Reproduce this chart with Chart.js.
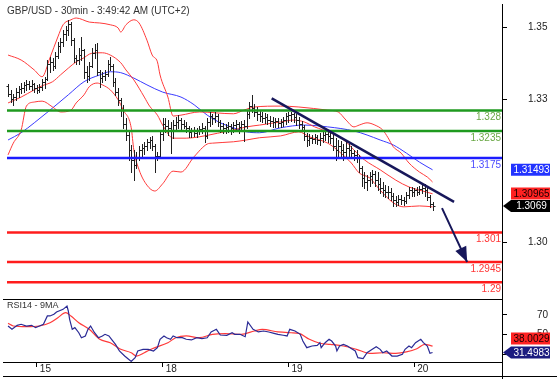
<!DOCTYPE html>
<html>
<head>
<meta charset="utf-8">
<script src="https://cdn.jsdelivr.net/npm/chart.js@4.4.0/dist/chart.umd.min.js"></script>
<style>
  html, body { margin: 0; padding: 0; background: #fff; }
  #wrap { position: relative; width: 557px; height: 379px; overflow: hidden; }
  canvas { position: absolute; left: 0; }
  #price { top: 0; width: 557px; height: 299px; }
  #rsi { top: 299px; width: 557px; height: 80px; }
</style>
</head>
<body>
<div id="wrap">
  <canvas id="price" width="557" height="299"></canvas>
  <canvas id="rsi" width="557" height="80"></canvas>
</div>
<script>
// 30 min bars, index 0 = first bar on the left
const opens = [
  1.3335, 1.3317, 1.3306, 1.3310, 1.3321, 1.3328, 1.3330, 1.3337, 1.3339, 1.3335,
  1.3339, 1.3330, 1.3326, 1.3333, 1.3344, 1.3350, 1.3383, 1.3388, 1.3379, 1.3401,
  1.3423, 1.3432, 1.3450, 1.3459, 1.3472, 1.3436, 1.3397, 1.3392, 1.3403, 1.3414,
  1.3366, 1.3357, 1.3379, 1.3408, 1.3414, 1.3366, 1.3352, 1.3357, 1.3361, 1.3383,
  1.3379, 1.3344, 1.3321, 1.3304, 1.3281, 1.3250, 1.3226, 1.3193, 1.3171, 1.3160,
  1.3175, 1.3193, 1.3197, 1.3202, 1.3211, 1.3215, 1.3202, 1.3180, 1.3180, 1.3228,
  1.3250, 1.3246, 1.3242, 1.3237, 1.3248, 1.3255, 1.3259, 1.3250, 1.3246, 1.3242,
  1.3233, 1.3235, 1.3231, 1.3237, 1.3239, 1.3242, 1.3224, 1.3255, 1.3268, 1.3264,
  1.3268, 1.3255, 1.3246, 1.3242, 1.3244, 1.3246, 1.3242, 1.3248, 1.3250, 1.3244,
  1.3250, 1.3246, 1.3273, 1.3290, 1.3286, 1.3277, 1.3273, 1.3268, 1.3264, 1.3266,
  1.3259, 1.3257, 1.3255, 1.3257, 1.3253, 1.3255, 1.3259, 1.3268, 1.3270, 1.3273,
  1.3266, 1.3259, 1.3250, 1.3244, 1.3224, 1.3215, 1.3220, 1.3217, 1.3222, 1.3215,
  1.3220, 1.3226, 1.3228, 1.3224, 1.3220, 1.3202, 1.3193, 1.3202, 1.3193, 1.3189,
  1.3197, 1.3193, 1.3186, 1.3182, 1.3175, 1.3153, 1.3131, 1.3122, 1.3126, 1.3135,
  1.3140, 1.3126, 1.3118, 1.3109, 1.3104, 1.3100, 1.3100, 1.3091, 1.3082, 1.3078,
  1.3085, 1.3082, 1.3080, 1.3093, 1.3104, 1.3100, 1.3104, 1.3100, 1.3107, 1.3109,
  1.3104, 1.3089, 1.3073,
]
const highs = [
  1.3339, 1.3326, 1.3317, 1.3330, 1.3335, 1.3341, 1.3344, 1.3348, 1.3346, 1.3348,
  1.3341, 1.3337, 1.3339, 1.3350, 1.3355, 1.3392, 1.3399, 1.3397, 1.3410, 1.3432,
  1.3441, 1.3459, 1.3467, 1.3481, 1.3476, 1.3441, 1.3403, 1.3419, 1.3443, 1.3416,
  1.3379, 1.3388, 1.3419, 1.3427, 1.3429, 1.3370, 1.3366, 1.3370, 1.3392, 1.3399,
  1.3383, 1.3352, 1.3330, 1.3308, 1.3293, 1.3264, 1.3233, 1.3204, 1.3193, 1.3189,
  1.3202, 1.3206, 1.3211, 1.3217, 1.3222, 1.3224, 1.3206, 1.3189, 1.3237, 1.3264,
  1.3264, 1.3259, 1.3255, 1.3259, 1.3266, 1.3270, 1.3264, 1.3259, 1.3255, 1.3246,
  1.3242, 1.3244, 1.3242, 1.3246, 1.3253, 1.3246, 1.3264, 1.3277, 1.3273, 1.3277,
  1.3273, 1.3259, 1.3253, 1.3250, 1.3255, 1.3250, 1.3255, 1.3259, 1.3255, 1.3257,
  1.3259, 1.3281, 1.3299, 1.3315, 1.3295, 1.3288, 1.3281, 1.3277, 1.3275, 1.3273,
  1.3268, 1.3266, 1.3264, 1.3264, 1.3261, 1.3266, 1.3275, 1.3277, 1.3277, 1.3275,
  1.3273, 1.3266, 1.3257, 1.3248, 1.3231, 1.3228, 1.3226, 1.3228, 1.3226, 1.3231,
  1.3233, 1.3235, 1.3237, 1.3235, 1.3231, 1.3220, 1.3215, 1.3213, 1.3206, 1.3211,
  1.3206, 1.3202, 1.3193, 1.3193, 1.3182, 1.3157, 1.3144, 1.3138, 1.3144, 1.3149,
  1.3146, 1.3144, 1.3131, 1.3122, 1.3115, 1.3113, 1.3109, 1.3098, 1.3091, 1.3093,
  1.3093, 1.3089, 1.3100, 1.3111, 1.3111, 1.3109, 1.3111, 1.3113, 1.3115, 1.3118,
  1.3113, 1.3093, 1.3078,
]
const lows = [
  1.3313, 1.3299, 1.3293, 1.3304, 1.3310, 1.3319, 1.3321, 1.3326, 1.3328, 1.3326,
  1.3321, 1.3319, 1.3321, 1.3326, 1.3330, 1.3348, 1.3366, 1.3370, 1.3374, 1.3397,
  1.3410, 1.3423, 1.3436, 1.3447, 1.3425, 1.3388, 1.3383, 1.3383, 1.3392, 1.3352,
  1.3344, 1.3348, 1.3377, 1.3397, 1.3359, 1.3333, 1.3344, 1.3348, 1.3357, 1.3370,
  1.3335, 1.3315, 1.3293, 1.3268, 1.3242, 1.3215, 1.3171, 1.3144, 1.3126, 1.3153,
  1.3171, 1.3180, 1.3184, 1.3193, 1.3197, 1.3193, 1.3144, 1.3171, 1.3175, 1.3215,
  1.3233, 1.3226, 1.3186, 1.3220, 1.3237, 1.3242, 1.3237, 1.3242, 1.3233, 1.3222,
  1.3222, 1.3224, 1.3222, 1.3228, 1.3231, 1.3211, 1.3220, 1.3246, 1.3250, 1.3255,
  1.3246, 1.3233, 1.3231, 1.3231, 1.3233, 1.3228, 1.3233, 1.3237, 1.3231, 1.3237,
  1.3213, 1.3242, 1.3264, 1.3277, 1.3268, 1.3259, 1.3257, 1.3255, 1.3253, 1.3250,
  1.3246, 1.3244, 1.3244, 1.3244, 1.3244, 1.3246, 1.3250, 1.3255, 1.3257, 1.3255,
  1.3248, 1.3242, 1.3235, 1.3215, 1.3202, 1.3204, 1.3208, 1.3208, 1.3206, 1.3204,
  1.3211, 1.3215, 1.3211, 1.3208, 1.3193, 1.3171, 1.3175, 1.3180, 1.3171, 1.3180,
  1.3180, 1.3178, 1.3171, 1.3166, 1.3144, 1.3113, 1.3109, 1.3104, 1.3113, 1.3120,
  1.3113, 1.3104, 1.3098, 1.3091, 1.3089, 1.3087, 1.3082, 1.3069, 1.3069, 1.3071,
  1.3073, 1.3071, 1.3076, 1.3087, 1.3091, 1.3091, 1.3093, 1.3096, 1.3098, 1.3091,
  1.3082, 1.3067, 1.3060,
]
const closes = [
  1.3317, 1.3306, 1.3310, 1.3321, 1.3328, 1.3330, 1.3337, 1.3339, 1.3335, 1.3339,
  1.3330, 1.3326, 1.3333, 1.3344, 1.3350, 1.3383, 1.3388, 1.3379, 1.3401, 1.3423,
  1.3432, 1.3450, 1.3459, 1.3472, 1.3436, 1.3397, 1.3392, 1.3403, 1.3414, 1.3366,
  1.3357, 1.3379, 1.3408, 1.3414, 1.3366, 1.3352, 1.3357, 1.3361, 1.3383, 1.3379,
  1.3344, 1.3321, 1.3304, 1.3281, 1.3250, 1.3226, 1.3193, 1.3171, 1.3160, 1.3175,
  1.3193, 1.3197, 1.3202, 1.3211, 1.3215, 1.3202, 1.3180, 1.3180, 1.3228, 1.3250,
  1.3246, 1.3242, 1.3237, 1.3248, 1.3255, 1.3259, 1.3250, 1.3246, 1.3242, 1.3233,
  1.3235, 1.3231, 1.3237, 1.3239, 1.3242, 1.3224, 1.3255, 1.3268, 1.3264, 1.3268,
  1.3255, 1.3246, 1.3242, 1.3244, 1.3246, 1.3242, 1.3248, 1.3250, 1.3244, 1.3250,
  1.3246, 1.3273, 1.3290, 1.3286, 1.3277, 1.3273, 1.3268, 1.3264, 1.3266, 1.3259,
  1.3257, 1.3255, 1.3257, 1.3253, 1.3255, 1.3259, 1.3268, 1.3270, 1.3273, 1.3266,
  1.3259, 1.3250, 1.3244, 1.3224, 1.3215, 1.3220, 1.3217, 1.3222, 1.3215, 1.3220,
  1.3226, 1.3228, 1.3224, 1.3220, 1.3202, 1.3193, 1.3202, 1.3193, 1.3189, 1.3197,
  1.3193, 1.3186, 1.3182, 1.3175, 1.3153, 1.3131, 1.3122, 1.3126, 1.3135, 1.3140,
  1.3126, 1.3118, 1.3109, 1.3104, 1.3100, 1.3100, 1.3091, 1.3082, 1.3078, 1.3085,
  1.3082, 1.3080, 1.3093, 1.3104, 1.3100, 1.3104, 1.3100, 1.3107, 1.3109, 1.3104,
  1.3089, 1.3073, 1.3069,
]

// bollinger bands and moving average (bar index, price)
const bbUpperAt = [0, 5, 10, 13, 16, 19, 21, 24, 26, 31, 35, 39, 42, 43, 45, 48, 50, 53, 55, 57, 58, 61, 63, 66, 73, 86, 90, 94, 104, 111, 122, 126, 129, 132, 134, 137, 140, 143, 145, 147, 150, 153, 157, 160, 162]
const bbUpper = [1.3403, 1.3392, 1.3370, 1.3355, 1.3397, 1.3443, 1.3470, 1.3481, 1.3485, 1.3476, 1.3474, 1.3470, 1.3463, 1.3454, 1.3470, 1.3481, 1.3474, 1.3436, 1.3403, 1.3388, 1.3359, 1.3310, 1.3268, 1.3270, 1.3277, 1.3273, 1.3281, 1.3288, 1.3290, 1.3288, 1.3281, 1.3277, 1.3259, 1.3244, 1.3248, 1.3253, 1.3248, 1.3237, 1.3220, 1.3200, 1.3186, 1.3164, 1.3144, 1.3133, 1.3122]
const bbMidAt = [0, 5, 10, 13, 17, 20, 23, 26, 29, 31, 34, 36, 39, 43, 45, 48, 52, 54, 57, 59, 63, 68, 73, 80, 86, 91, 96, 104, 109, 113, 117, 123, 129, 132, 136, 142, 148, 153, 157, 162]
const bbMid = [1.3297, 1.3310, 1.3326, 1.3335, 1.3344, 1.3359, 1.3374, 1.3388, 1.3397, 1.3405, 1.3408, 1.3408, 1.3403, 1.3386, 1.3370, 1.3348, 1.3310, 1.3290, 1.3270, 1.3248, 1.3219, 1.3219, 1.3222, 1.3230, 1.3237, 1.3244, 1.3248, 1.3255, 1.3259, 1.3255, 1.3244, 1.3231, 1.3211, 1.3193, 1.3171, 1.3149, 1.3126, 1.3111, 1.3104, 1.3096]
const bbLowerAt = [0, 2, 5, 7, 10, 13, 17, 20, 24, 26, 29, 31, 34, 36, 39, 42, 44, 47, 48, 50, 53, 56, 59, 63, 66, 71, 76, 78, 86, 91, 96, 104, 111, 115, 122, 127, 131, 134, 138, 142, 147, 151, 157, 162]
const bbLower = [1.3182, 1.3208, 1.3237, 1.3290, 1.3299, 1.3301, 1.3288, 1.3277, 1.3281, 1.3297, 1.3315, 1.3333, 1.3341, 1.3337, 1.3326, 1.3304, 1.3281, 1.3242, 1.3193, 1.3149, 1.3115, 1.3102, 1.3118, 1.3146, 1.3144, 1.3178, 1.3206, 1.3208, 1.3211, 1.3215, 1.3220, 1.3224, 1.3233, 1.3222, 1.3208, 1.3186, 1.3164, 1.3142, 1.3131, 1.3104, 1.3076, 1.3067, 1.3069, 1.3067]
const maAt = [0, 5, 10, 16, 23, 29, 35, 39, 43, 48, 53, 59, 66, 71, 76, 81, 86, 91, 96, 104, 113, 122, 132, 137, 142, 147, 152, 157, 162]
const ma = [1.3215, 1.3231, 1.3253, 1.3281, 1.3315, 1.3344, 1.3359, 1.3366, 1.3364, 1.3352, 1.3337, 1.3321, 1.3310, 1.3293, 1.3270, 1.3253, 1.3242, 1.3233, 1.3231, 1.3242, 1.3248, 1.3244, 1.3235, 1.3226, 1.3215, 1.3204, 1.3186, 1.3166, 1.3149]

// horizontal levels
const levelValues = [1.328, 1.3235, 1.3175, 1.301, 1.2945, 1.29]
const levelLabels = ['1.328', '1.3235', '1.3175', '1.301', '1.2945', '1.29']

// drawn trend line and the target arrow
const trendAt = [100.6, 170.2]
const trendPrice = [1.3307, 1.3078]
const arrowAt = [165.6, 175.2]
const arrowPrice = [1.3064, 1.2945]

// last values shown in the boxes
const lastMa = 1.31493
const lastMid = 1.30965
const lastClose = 1.3069

// rsi panel
const rsiAt = [0, 1.5, 3.5, 5, 7, 9, 10.5, 12, 13.5, 15, 16, 17.5, 18.5, 21, 22.5, 23, 23.5, 24.5, 25.5, 27, 28, 29.5, 30.5, 31.5, 33, 34.5, 36, 37, 38.5, 39.5, 41, 42.5, 44.5, 46, 47, 48.5, 49.5, 51.5, 53.5, 55.5, 57, 58, 59.5, 60.5, 62, 63, 64.5, 66.5, 68, 70, 72, 74, 76, 77.5, 79.5, 81, 83.5, 85.5, 86.5, 88.5, 90.5, 91.5, 93.5, 95.5, 97.5, 99.5, 101.5, 103, 105, 106.5, 107.5, 109.5, 111.5, 112.5, 114, 116, 118, 119, 119.5, 121, 122.5, 123.5, 125, 125.5, 126.5, 128, 129.5, 130.5, 132.5, 133.5, 135.5, 137, 139, 140.5, 142, 143, 144.5, 146.5, 148.5, 150.5, 151.5, 153, 154, 155.5, 157.5, 158.5, 160, 161, 162]
const rsi = [58.7, 55.3, 59.4, 60.5, 58.7, 59.4, 57.0, 58.7, 60.5, 69.0, 69.0, 70.7, 73.1, 75.8, 79.2, 74.1, 65.6, 55.3, 57.0, 51.8, 46.7, 48.5, 55.3, 58.7, 51.8, 46.7, 48.5, 50.2, 48.5, 45.1, 39.9, 33.1, 27.9, 24.6, 22.4, 26.2, 33.1, 34.8, 34.8, 33.1, 36.5, 45.1, 48.5, 46.7, 45.1, 48.5, 46.7, 46.7, 45.1, 44.4, 46.7, 45.7, 46.7, 52.6, 55.3, 49.5, 49.2, 51.8, 50.2, 50.2, 47.7, 62.8, 55.3, 52.6, 53.6, 52.6, 51.2, 50.2, 49.2, 48.5, 55.3, 53.6, 50.2, 43.3, 36.5, 38.2, 38.9, 41.6, 36.5, 41.6, 45.1, 43.3, 38.2, 33.1, 38.2, 39.9, 38.2, 36.5, 33.1, 26.2, 25.2, 31.3, 34.8, 37.5, 34.8, 31.3, 33.1, 27.9, 27.9, 29.7, 34.8, 38.2, 36.5, 41.6, 45.1, 41.6, 38.2, 30.7, 31.5]
const rsiMaAt = [0, 2, 7, 12, 16, 19, 22, 24, 27, 31, 35, 39, 43, 47, 49, 52, 55, 61, 64, 68, 73, 78, 83, 89, 94, 97, 103, 108, 111, 115, 119, 123, 128, 133, 138, 143, 148, 152, 156, 159, 162]
const rsiMa = [61.5, 58.7, 58.0, 58.7, 62.1, 67.2, 72.4, 69.0, 62.1, 55.3, 45.1, 41.6, 34.8, 31.3, 27.9, 31.3, 35.4, 41.6, 46.7, 48.5, 46.7, 50.2, 50.8, 50.2, 53.6, 55.3, 52.6, 51.8, 51.2, 45.1, 41.0, 39.9, 38.2, 34.8, 30.7, 31.3, 30.7, 32.1, 35.4, 39.9, 38.0]
const lastRsi = 31.4983
const lastRsiMa = 38.0029

// axes
const dayTicks = [11, 59, 107, 155]
const dayLabels = ['15', '18', '19', '20']
const priceTickValues = [1.3464, 1.3305, 1.2988]
const rsiTickValues = [70, 50, 30]

const title = 'GBP/USD - 30min - 3:49:42 AM (UTC+2)'
const rsiTitle = 'RSI14 - 9MA'

const xMin = -0.4
const xMax = 188.5
const FONT = "'Liberation Sans', Arial, sans-serif"

Chart.defaults.font.family = FONT
Chart.defaults.font.size = 10
Chart.defaults.color = '#222'

const levelColors = ['#1f9a1f', '#1f9a1f', '#1c1cff', '#ff1c1c', '#ff1c1c', '#ff1c1c']
const levelTextColors = ['#6aa845', '#6aa845', '#4b4bff', '#ff3535', '#ff3535', '#ff3535']

const pts = (xs, ys) => xs.map((x, i) => ({ x, y: ys[i] }))

// keep the axes from pushing the plot area around
const fixWidth = s => {
  s.width = 55
  s.paddingTop = 0
  s.paddingBottom = 0
}
const fixHeight = s => {
  s.height = 17
  s.paddingLeft = 0
  s.paddingRight = 0
}

function valueBox(ctx, yMid, text, bg, fg, arrow) {
  const h = 12
  const l = 511
  const r = 550
  ctx.fillStyle = bg
  ctx.beginPath()
  if (arrow) {
    ctx.moveTo(503, yMid)
    ctx.lineTo(l, yMid - h / 2)
  } else {
    ctx.moveTo(l, yMid - h / 2)
  }
  ctx.lineTo(r, yMid - h / 2)
  ctx.lineTo(r, yMid + h / 2)
  ctx.lineTo(l, yMid + h / 2)
  ctx.closePath()
  ctx.fill()
  ctx.fillStyle = fg
  ctx.font = '10px ' + FONT
  ctx.textAlign = 'center'
  ctx.textBaseline = 'middle'
  ctx.fillText(text, (l + r) / 2 + 1, yMid + 0.5)
}

// open-high-low-close bars, drawn right after the bands so they sit on top of them
const ohlcBars = {
  id: 'ohlcBars',
  afterDatasetDraw(chart, args) {
    if (chart.data.datasets[args.index].label !== 'BB upper') return
    const { ctx } = chart
    const x = chart.scales.x
    const y = chart.scales.y
    ctx.save()
    ctx.strokeStyle = '#202020'
    ctx.lineWidth = 1
    ctx.beginPath()
    for (let i = 0; i < closes.length; i++) {
      const px = Math.round(x.getPixelForValue(i)) + 0.5
      const hi = Math.round(y.getPixelForValue(highs[i]))
      const lo = Math.round(y.getPixelForValue(lows[i]))
      const op = Math.round(y.getPixelForValue(opens[i])) + 0.5
      const cl = Math.round(y.getPixelForValue(closes[i])) + 0.5
      ctx.moveTo(px, hi)
      ctx.lineTo(px, lo + 1)
      ctx.moveTo(px - 2, op)
      ctx.lineTo(px, op)
      ctx.moveTo(px, cl)
      ctx.lineTo(px + 2, cl)
    }
    ctx.stroke()
    ctx.restore()
  },
}

const pricePanel = {
  id: 'pricePanel',
  afterDraw(chart) {
    const { ctx, chartArea } = chart
    const y = chart.scales.y
    const x = chart.scales.x
    ctx.save()
    // arrow head
    const x0 = x.getPixelForValue(arrowAt[0])
    const y0 = y.getPixelForValue(arrowPrice[0])
    const x1 = x.getPixelForValue(arrowAt[1])
    const y1 = y.getPixelForValue(arrowPrice[1])
    const ang = Math.atan2(y1 - y0, x1 - x0)
    const len = 15
    const half = 6
    const bx = x1 - len * Math.cos(ang)
    const by = y1 - len * Math.sin(ang)
    ctx.fillStyle = '#17175a'
    ctx.beginPath()
    ctx.moveTo(x1, y1)
    ctx.lineTo(bx + half * Math.sin(ang), by - half * Math.cos(ang))
    ctx.lineTo(bx - half * Math.sin(ang), by + half * Math.cos(ang))
    ctx.closePath()
    ctx.fill()

    // title
    ctx.fillStyle = '#333'
    ctx.font = '10px ' + FONT
    ctx.textAlign = 'left'
    ctx.textBaseline = 'middle'
    ctx.fillText(title, 7, 11)

    // level labels
    ctx.textAlign = 'right'
    levelValues.forEach((v, i) => {
      ctx.fillStyle = levelTextColors[i]
      ctx.fillText(levelLabels[i], chartArea.right - 1, y.getPixelForValue(v) + 7)
    })

    // right axis line
    ctx.strokeStyle = '#000'
    ctx.lineWidth = 1
    ctx.beginPath()
    ctx.moveTo(chartArea.right + 0.5, chartArea.top)
    ctx.lineTo(chartArea.right + 0.5, chart.height)
    ctx.stroke()

    valueBox(ctx, y.getPixelForValue(lastMa), lastMa.toFixed(5), '#2233ff', '#fff', false)
    valueBox(ctx, y.getPixelForValue(lastMid), lastMid.toFixed(5), '#ff2222', '#1a0000', false)
    valueBox(ctx, y.getPixelForValue(lastClose), lastClose.toFixed(4), '#000', '#fff', true)
    ctx.restore()
  },
}

const rsiPanel = {
  id: 'rsiPanel',
  afterDraw(chart) {
    const { ctx, chartArea } = chart
    const y = chart.scales.y
    ctx.save()
    ctx.fillStyle = '#333'
    ctx.font = '9px ' + FONT
    ctx.textAlign = 'left'
    ctx.textBaseline = 'middle'
    ctx.fillText(rsiTitle, 7, 7)

    ctx.strokeStyle = '#000'
    ctx.lineWidth = 1
    ctx.beginPath()
    ctx.moveTo(3, chartArea.top + 0.5)
    ctx.lineTo(chartArea.right, chartArea.top + 0.5)
    ctx.moveTo(3, chartArea.bottom + 0.5)
    ctx.lineTo(chartArea.right, chartArea.bottom + 0.5)
    ctx.moveTo(3, 77.5)
    ctx.lineTo(chart.width, 77.5)
    ctx.moveTo(chartArea.right + 0.5, 0)
    ctx.lineTo(chartArea.right + 0.5, chart.height)
    ctx.stroke()

    const yRsi = y.getPixelForValue(lastRsi)
    let yMa = y.getPixelForValue(lastRsiMa)
    if (yMa > yRsi - 14) yMa = yRsi - 14
    valueBox(ctx, yMa, lastRsiMa.toFixed(4), '#ff2222', '#1a0000', false)
    valueBox(ctx, yRsi, lastRsi.toFixed(4), '#1b1b80', '#fff', true)
    ctx.restore()
  },
}

const priceDatasets = [
  { label: 'trend', data: pts(trendAt, trendPrice), borderColor: '#17175a', borderWidth: 2.5, order: 0 },
  { label: 'target', data: pts(arrowAt, arrowPrice), borderColor: '#17175a', borderWidth: 2, order: 0 },
  ...levelValues.map((v, i) => ({
    label: 'level ' + levelLabels[i],
    data: [{ x: xMin, y: v }, { x: xMax, y: v }],
    borderColor: levelColors[i],
    borderWidth: 2.5,
    order: 1,
  })),
  { label: 'BB upper', data: pts(bbUpperAt, bbUpper), borderColor: '#ff3a3a', order: 3 },
  { label: 'BB mid', data: pts(bbMidAt, bbMid), borderColor: '#ff3a3a', order: 3 },
  { label: 'BB lower', data: pts(bbLowerAt, bbLower), borderColor: '#ff3a3a', order: 3 },
  { label: 'MA', data: pts(maAt, ma), borderColor: '#3a3aff', order: 3 },
]

new Chart(document.getElementById('price'), {
  type: 'line',
  data: { datasets: priceDatasets },
  options: {
    animation: false,
    responsive: false,
    maintainAspectRatio: false,
    events: [],
    layout: { padding: { left: 7, top: 4, right: 0, bottom: 0 } },
    plugins: { legend: { display: false }, tooltip: { enabled: false } },
    elements: {
      point: { radius: 0 },
      line: { borderWidth: 1, cubicInterpolationMode: 'monotone' },
    },
    scales: {
      x: { type: 'linear', min: xMin, max: xMax, display: false },
      y: {
        position: 'right',
        min: 1.2863,
        max: 1.3516,
        afterFit: fixWidth,
        afterBuildTicks: s => { s.ticks = priceTickValues.map(v => ({ value: v })) },
        ticks: {
          callback: v => v.toFixed(2),
          crossAlign: 'near',
          padding: 21,
          autoSkip: false,
          color: '#222',
        },
        grid: { drawOnChartArea: false, tickLength: 5, color: '#000' },
        border: { display: false },
      },
    },
  },
  plugins: [ohlcBars, pricePanel],
})

new Chart(document.getElementById('rsi'), {
  type: 'line',
  data: {
    datasets: [
      { label: 'RSI 14', data: pts(rsiAt, rsi), borderColor: '#2a2a95', borderWidth: 1.2 },
      { label: 'MA 9', data: pts(rsiMaAt, rsiMa), borderColor: '#ff3a3a', borderWidth: 1.2, cubicInterpolationMode: 'monotone' },
    ],
  },
  options: {
    animation: false,
    responsive: false,
    maintainAspectRatio: false,
    events: [],
    layout: { padding: { left: 7, top: 0, right: 0, bottom: 0 } },
    plugins: { legend: { display: false }, tooltip: { enabled: false } },
    elements: { point: { radius: 0 } },
    scales: {
      x: {
        type: 'linear',
        min: xMin,
        max: xMax,
        afterFit: fixHeight,
        afterBuildTicks: s => { s.ticks = dayTicks.map(v => ({ value: v })) },
        ticks: {
          callback: (v, i) => dayLabels[i],
          align: 'start',
          labelOffset: 3,
          padding: -3,
          maxRotation: 0,
          autoSkip: false,
          font: { size: 10, lineHeight: 1 },
        },
        grid: { drawOnChartArea: false, tickLength: 5, color: '#000' },
        border: { display: false },
      },
      y: {
        position: 'right',
        min: 21.8,
        max: 86.4,
        afterFit: fixWidth,
        afterBuildTicks: s => { s.ticks = rsiTickValues.map(v => ({ value: v })) },
        ticks: { crossAlign: 'near', padding: 30, autoSkip: false },
        grid: { drawOnChartArea: false, tickLength: 5, color: '#000' },
        border: { display: false },
      },
    },
  },
  plugins: [rsiPanel],
})
</script>
</body>
</html>
